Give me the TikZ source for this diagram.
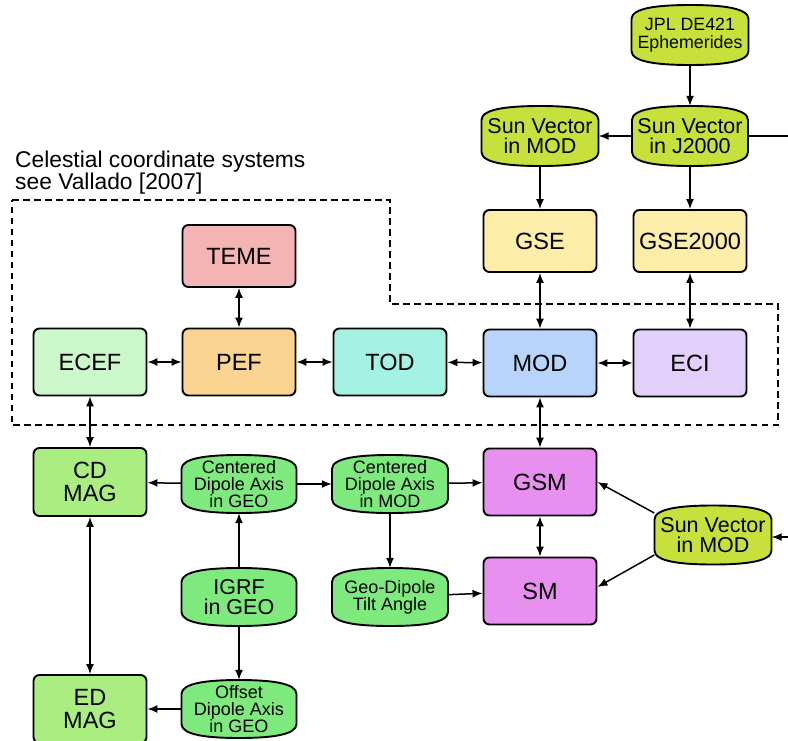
\documentclass[tikz,border=0pt]{standalone}
\usepackage{fontspec}
\setmainfont{Liberation Sans}
\usetikzlibrary{arrows.meta}
\definecolor{yg}{HTML}{C8E03C}
\definecolor{gsey}{HTML}{FCEDA8}
\definecolor{temec}{HTML}{F4B4B4}
\definecolor{ecefc}{HTML}{CBF7CB}
\definecolor{pefc}{HTML}{FAD490}
\definecolor{todc}{HTML}{A4F2E4}
\definecolor{modc}{HTML}{B8D4FA}
\definecolor{ecic}{HTML}{E2D0FA}
\definecolor{magc}{HTML}{AAEE82}
\definecolor{barc}{HTML}{7EEA7E}
\definecolor{gsmc}{HTML}{E890F0}
\tikzset{
  box/.style={draw, line width=1.9pt, rounded corners=6pt, minimum width=113pt,
    minimum height=67pt, font=\fontsize{23.5}{23}\selectfont, align=center, inner sep=0pt},
  conn/.style={line width=1.5pt, -{Latex[length=10pt,width=8pt]}},
  bconn/.style={line width=1.5pt, {Latex[length=10pt,width=8pt]}-{Latex[length=10pt,width=8pt]}},
  plainline/.style={line width=1.5pt},
  bigb/.style={font=\fontsize{21.5}{20.5}\selectfont},
  smallb/.style={font=\fontsize{18}{16.8}\selectfont},
}
% #1 name, #2 x, #3 y, #4 half width, #5 half height, #6 fill, #7 style, #8 text
\newcommand\barrelnode[8]{%
  \filldraw[fill=#6, line width=1.9pt]
    ({#2-#4},{#3-#5+14}) .. controls ({#2-#4},{#3-#5+3}) and ({#2-0.55*#4},{#3-#5}) .. ({#2},{#3-#5})
    .. controls ({#2+0.55*#4},{#3-#5}) and ({#2+#4},{#3-#5+3}) .. ({#2+#4},{#3-#5+14})
    -- ({#2+#4},{#3+#5-14})
    .. controls ({#2+#4},{#3+#5-3}) and ({#2+0.55*#4},{#3+#5}) .. ({#2},{#3+#5})
    .. controls ({#2-0.55*#4},{#3+#5}) and ({#2-#4},{#3+#5-3}) .. ({#2-#4},{#3+#5-14})
    -- cycle;
  \node[#7, minimum width={2*#4}, minimum height={2*#5}, inner sep=0pt, align=center] (#1) at (#2,#3) {#8};}
\begin{document}
\begin{tikzpicture}[x=1pt, y=-1pt]
\useasboundingbox (0,0) rectangle (788,740);

% dashed region
\draw[line width=2.5pt, dash pattern=on 6.5pt off 4.5pt]
  (12,200) -- (390,200) -- (390,304) -- (778,304) -- (778,425) -- (12,425) -- cycle;
\node[anchor=north west, inner sep=0pt, align=left, font=\fontsize{22.8}{22}\selectfont] (lbl) at (15,151)
  {Celestial coordinate systems\\see Vallado [2007]};

% barrels
\barrelnode{jpl}{690}{35}{58.5}{30}{yg}{font=\fontsize{17.8}{18}\selectfont}{JPL DE421\\Ephemerides}
\barrelnode{svj}{690}{136}{58}{30}{yg}{bigb}{Sun Vector\\in J2000}
\barrelnode{svm}{540}{136}{58.5}{30}{yg}{bigb}{Sun Vector\\in MOD}
\barrelnode{svb}{713}{535}{58.5}{29.5}{yg}{bigb}{Sun Vector\\in MOD}
\barrelnode{cdgeo}{239}{484}{57.5}{29}{barc}{smallb}{Centered\\Dipole Axis\\in GEO}
\barrelnode{cdmod}{390}{484}{58}{29}{barc}{smallb}{Centered\\Dipole Axis\\in MOD}
\barrelnode{igrf}{239}{597}{57.5}{29}{barc}{bigb}{IGRF\\in GEO}
\barrelnode{tilt}{390}{597}{58}{29}{barc}{smallb}{Geo-Dipole\\Tilt Angle}
\barrelnode{offs}{239}{709}{57.5}{29}{barc}{smallb}{Offset\\Dipole Axis\\in GEO}

% boxes
\node[box, fill=gsey, minimum height=62pt] (gse) at (540,241) {GSE};
\node[box, fill=gsey, minimum height=62pt] (gse2) at (690,241) {GSE2000};
\node[box, fill=temec, minimum height=62pt] (teme) at (239,256) {TEME};
\node[box, fill=ecefc] (ecef) at (90,362) {ECEF};
\node[box, fill=pefc] (pef) at (239,362) {PEF};
\node[box, fill=todc] (tod) at (390,362) {TOD};
\node[box, fill=modc] (mod) at (540,363) {MOD};
\node[box, fill=ecic] (eci) at (690,363) {ECI};
\node[box, fill=magc, minimum height=68pt] (cdmag) at (90,482) {CD\\MAG};
\node[box, fill=magc, minimum height=68pt] (edmag) at (90,709) {ED\\MAG};
\node[box, fill=gsmc] (gsm) at (540,482) {GSM};
\node[box, fill=gsmc] (sm) at (540,591) {SM};

\coordinate (edgeA) at (788,136);
\coordinate (edgeB) at (788,537);

% connectors
\draw[conn] (jpl) -- (svj);
\draw[conn] (svj) -- (svm);
\draw[plainline] (svj.east) -- (edgeA);
\draw[conn] (svm) -- (gse);
\draw[conn] (svj) -- (gse2);
\draw[bconn] (gse) -- (mod);
\draw[bconn] (gse2) -- (eci);
\draw[bconn] (teme) -- (pef);
\draw[bconn] (ecef) -- (pef);
\draw[bconn] (pef) -- (tod);
\draw[bconn] (tod) -- (mod);
\draw[bconn] (mod) -- (eci);
\draw[bconn] (ecef) -- (cdmag);
\draw[bconn] (mod) -- (gsm);
\draw[conn] (cdgeo) -- (cdmag);
\draw[conn] (cdgeo) -- (cdmod);
\draw[conn] (cdmod) -- (gsm);
\draw[conn] (cdmod) -- (tilt);
\draw[conn] (tilt) -- (sm);
\draw[conn] (igrf) -- (cdgeo);
\draw[conn] (igrf) -- (offs);
\draw[conn] (offs) -- (edmag);
\draw[bconn] (cdmag) -- (edmag);
\draw[bconn] (gsm) -- (sm);
\draw[conn] ([yshift=22pt]svb.west) -- (gsm.east);
\draw[conn] ([yshift=-20pt]svb.west) -- ([yshift=4pt]sm.east);
\draw[conn] (edgeB) -- (svb.east |- edgeB);
\end{tikzpicture}
\end{document}
